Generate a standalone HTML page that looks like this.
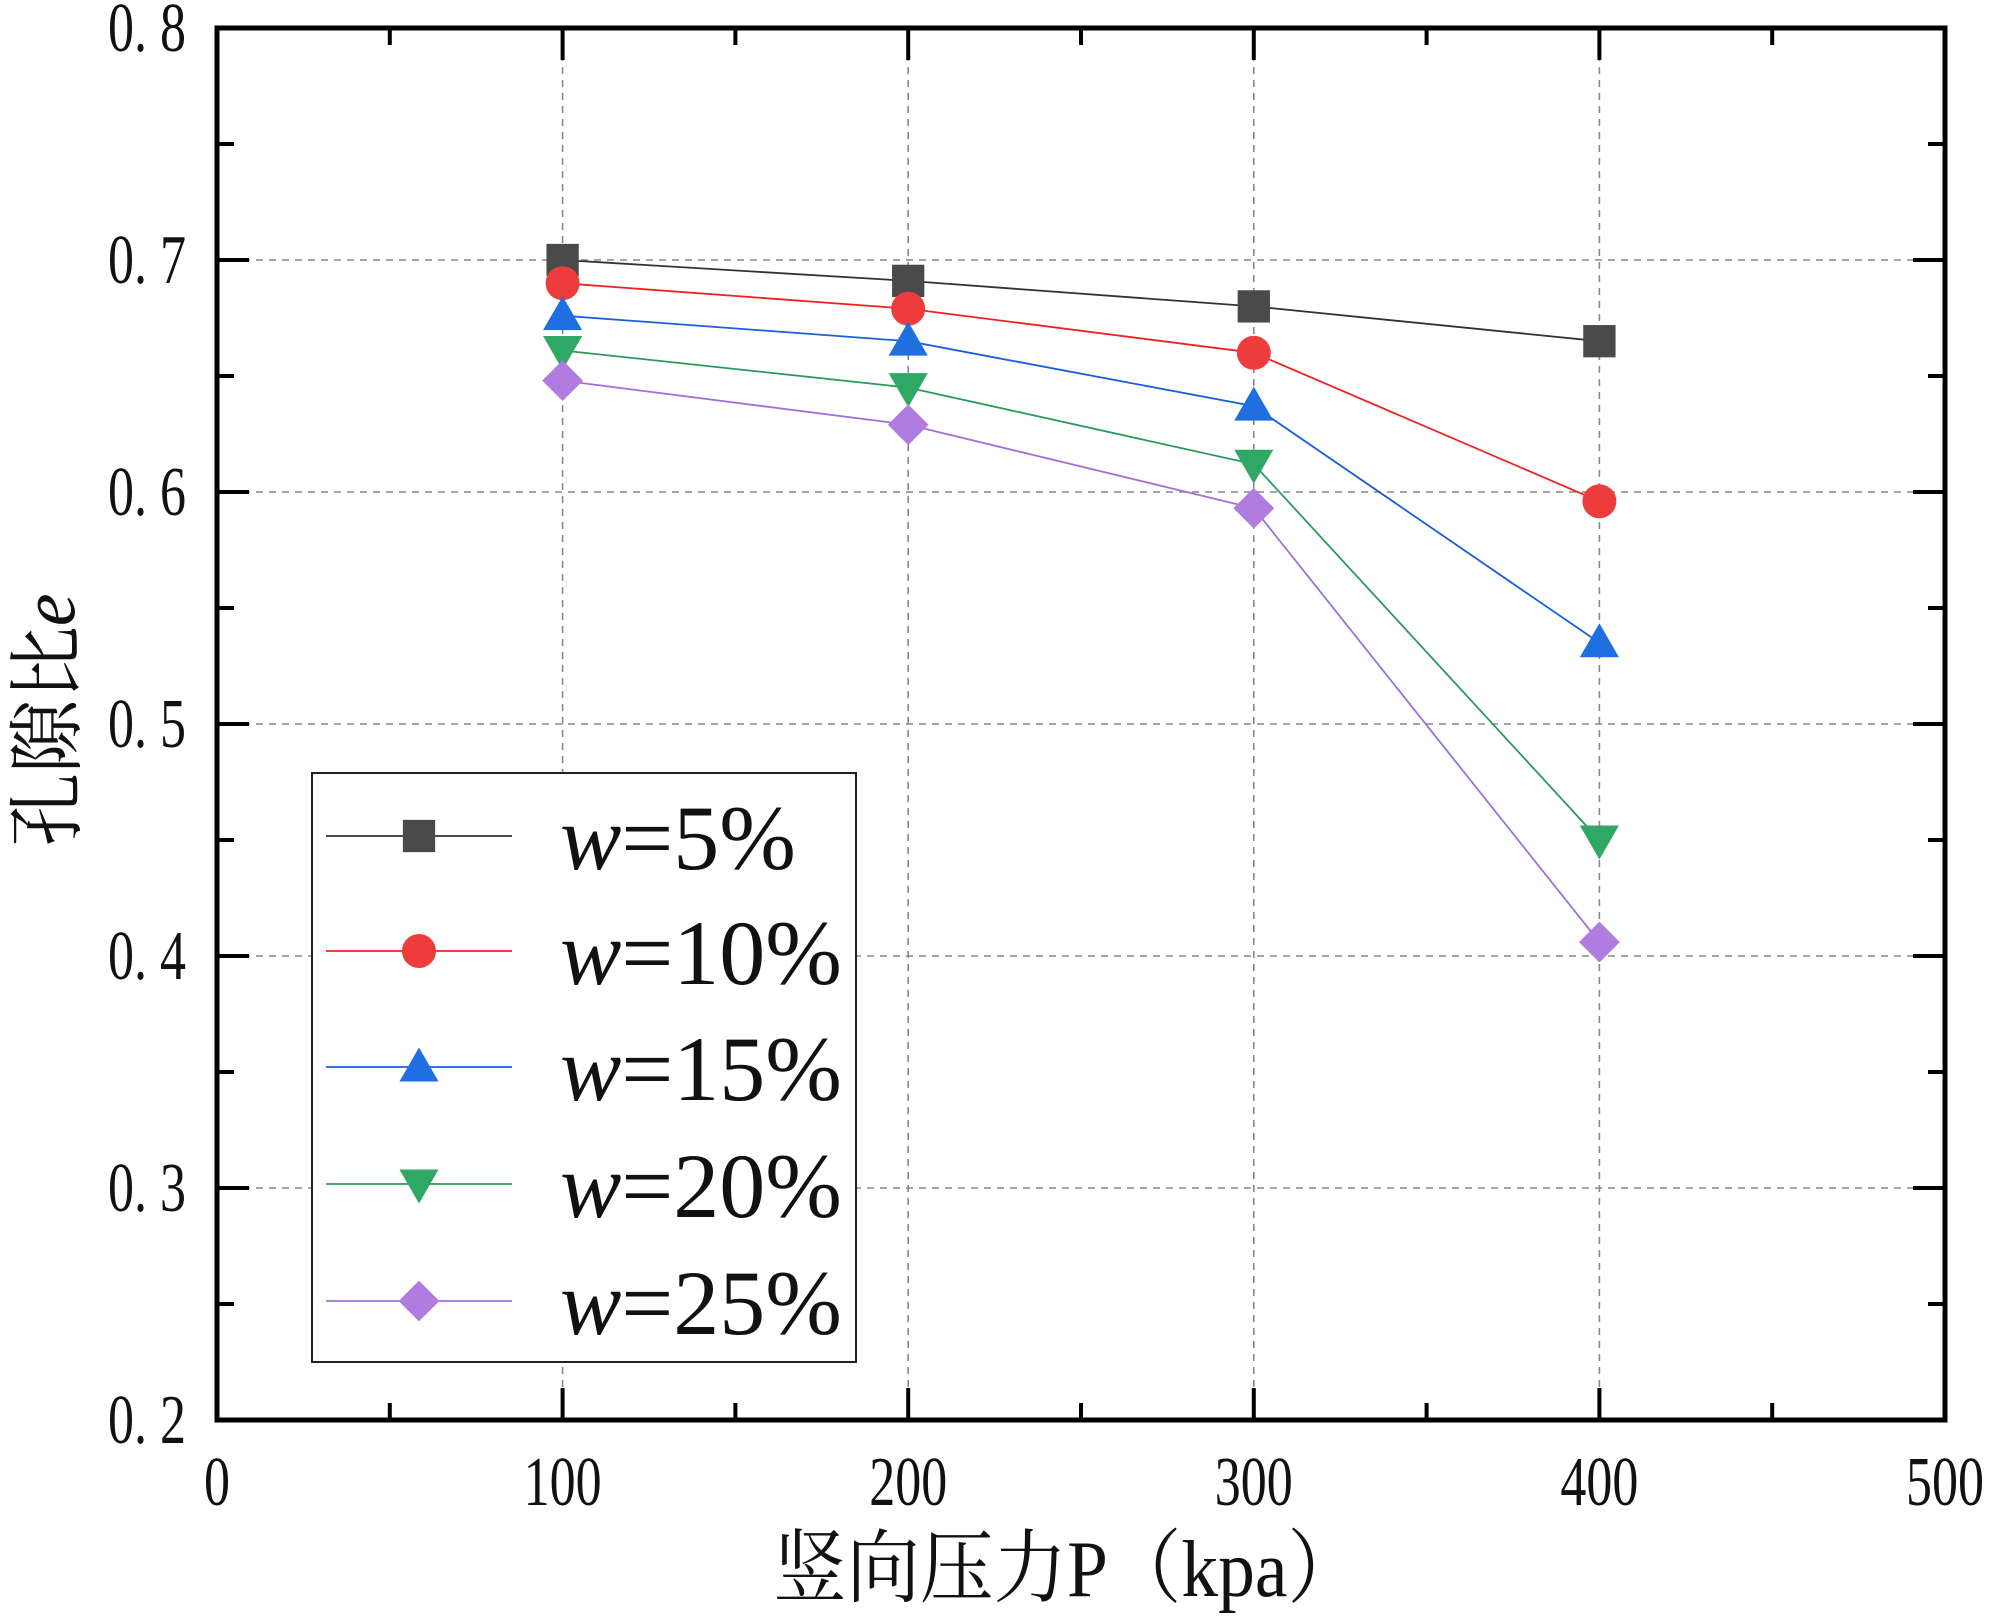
<!DOCTYPE html>
<html><head><meta charset="utf-8"><style>
html,body{margin:0;padding:0;background:#fff;}
svg{display:block;}
</style></head><body>
<svg id="chart" width="2000" height="1618" viewBox="0 0 2000 1618" xmlns="http://www.w3.org/2000/svg"></svg>
<script>
const categories = [100, 200, 300, 400];
const seriesNames = ["5%", "10%", "15%", "20%", "25%"];
const s5 = [0.700, 0.691, 0.680, 0.665];
const s10 = [0.690, 0.679, 0.660, 0.596];
const s15 = [0.676, 0.665, 0.637, 0.535];
const s20 = [0.661, 0.645, 0.612, 0.450];
const s25 = [0.648, 0.629, 0.593, 0.406];
const xTicks = [0, 100, 200, 300, 400, 500];
const yTicks = [0.2, 0.3, 0.4, 0.5, 0.6, 0.7, 0.8];
const yTickLabels = ["0. 2", "0. 3", "0. 4", "0. 5", "0. 6", "0. 7", "0. 8"];

const NS = "http://www.w3.org/2000/svg";
const svg = document.getElementById("chart");
const L = 217, R = 1945, T = 28, B = 1420;
function xs(v){ return L + (v - 0) / 500 * (R - L); }
function ys(v){ return B - (v - 0.2) / 0.6 * (B - T); }
function el(tag, attrs, parent){
  const e = document.createElementNS(NS, tag);
  for (const k in attrs) e.setAttribute(k, attrs[k]);
  (parent || svg).appendChild(e);
  return e;
}
const series = [
  {vals: s5, color: "#4a4a4a", line: "#333", marker: "square"},
  {vals: s10, color: "#ee3b3b", line: "#ee2222", marker: "circle"},
  {vals: s15, color: "#1f6fe0", line: "#1a5fd8", marker: "tri-up"},
  {vals: s20, color: "#2fa866", line: "#2a9a5c", marker: "tri-down"},
  {vals: s25, color: "#b07ce0", line: "#a070d8", marker: "diamond"}
];

const grid = el("g", {});


yTicks.forEach(v => {
  if (v > 0.21 && v < 0.79) {
    const g = el("line", {x1: L, x2: R, y1: ys(v), y2: ys(v), stroke: "#888", "stroke-width": 1.6, "stroke-dasharray": "7 6"}, grid);
    
    
  }
});
xTicks.forEach(v => {
  if (v > 0 && v < 500) {
    const g = el("line", {x1: xs(v), x2: xs(v), y1: T, y2: B, stroke: "#888", "stroke-width": 1.6, "stroke-dasharray": "7 6"}, grid);
    
    
  }
});

const ticks = el("g", {stroke: "#000", "stroke-width": 4});


for (let v = 0; v <= 500; v += 50) {
  const major = v % 100 === 0;
  const len = major ? 32 : 17;
  el("line", {x1: xs(v), x2: xs(v), y1: B, y2: B - len}, ticks);
  el("line", {x1: xs(v), x2: xs(v), y1: T, y2: T + len}, ticks);
}
for (let i = 0; i <= 12; i++) {
  const v = 0.2 + i * 0.05;
  const major = i % 2 === 0;
  const len = major ? 32 : 17;
  el("line", {x1: L, x2: L + len, y1: ys(v), y2: ys(v)}, ticks);
  el("line", {x1: R, x2: R - len, y1: ys(v), y2: ys(v)}, ticks);
}

series.forEach((s, si) => {
  const g = el("g", {});
  
  
  const pts = s.vals.map((v, i) => xs(categories[i]) + "," + ys(v)).join(" ");
  const pl = el("polyline", {points: pts, fill: "none", stroke: s.line, "stroke-width": 1.8}, g);
  
  
  s.vals.forEach((v, i) => {
    const m = drawMarker(s.marker, xs(categories[i]), ys(v), s.color, g, 17);
    
    
  });
});

function drawMarker(type, cx, cy, color, parent, r){
  if (type === "square") return el("rect", {x: cx - r*0.95, y: cy - r*0.95, width: r*1.9, height: r*1.9, fill: color}, parent);
  if (type === "circle") return el("circle", {cx: cx, cy: cy, r: r, fill: color}, parent);
  if (type === "tri-up") return el("polygon", {points: `${cx},${cy - r*1.15} ${cx - r*1.15},${cy + r*0.85} ${cx + r*1.15},${cy + r*0.85}`, fill: color}, parent);
  if (type === "tri-down") return el("polygon", {points: `${cx},${cy + r*1.15} ${cx - r*1.15},${cy - r*0.85} ${cx + r*1.15},${cy - r*0.85}`, fill: color}, parent);
  return el("polygon", {points: `${cx},${cy - r*1.2} ${cx + r*1.2},${cy} ${cx},${cy + r*1.2} ${cx - r*1.2},${cy}`, fill: color}, parent);
}

const frame = el("rect", {x: L, y: T, width: R - L, height: B - T, fill: "none", stroke: "#000", "stroke-width": 5});



const font = '"Liberation Serif", "Noto Serif CJK SC", serif';
xTicks.forEach(v => {
  const t = el("text", {x: 0, y: 0, "text-anchor": "middle", "font-family": font, "font-size": 52, fill: "#111", transform: `translate(${xs(v)},1505) scale(1,1.35)`});
  t.textContent = String(v);
  
  
});
yTicks.forEach((v, i) => {
  const t = el("text", {x: 0, y: 0, "text-anchor": "end", "font-family": font, "font-size": 52, fill: "#111", transform: `translate(186,${ys(v) + 23}) scale(1,1.35)`});
  t.textContent = yTickLabels[i];
  
  
});

const xt = el("text", {x: 0, y: 0, "text-anchor": "middle", "font-family": font, "font-size": 70, fill: "#111", transform: "translate(1067,1596) scale(1.05,1.15)"});
xt.textContent = "竖向压力P（kpa）";


const yt = el("text", {x: 0, y: 0, "text-anchor": "middle", "font-family": font, "font-size": 70, fill: "#111", transform: "translate(74,720) rotate(-90) scale(1.05,1.1)"});
yt.innerHTML = '孔隙比<tspan font-style="italic">e</tspan>';



const lg = el("g", {});


const lbox = el("rect", {x: 312, y: 773, width: 544, height: 589, fill: "#fff", stroke: "#222", "stroke-width": 2}, lg);


const legY = [836, 951, 1067, 1184, 1301];
series.forEach((s, i) => {
  const y = legY[i];
  const ln = el("line", {x1: 326, x2: 512, y1: y, y2: y, stroke: s.line, "stroke-width": 1.8}, lg);
  
  
  const m = drawMarker(s.marker, 419, y, s.color, lg, 17);
  
  
  const t = el("text", {x: 560, y: y + 33, "font-family": font, "font-size": 92, fill: "#111"}, lg);
  t.innerHTML = '<tspan font-style="italic">w</tspan>=' + seriesNames[i];
  
  
});
</script>
</body></html>
